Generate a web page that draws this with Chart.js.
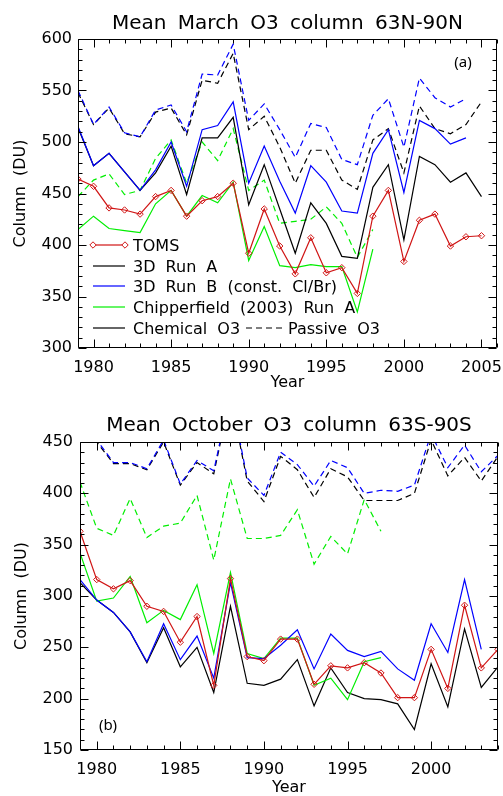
<!DOCTYPE html>
<html><head><meta charset="utf-8">
<script src="https://cdn.jsdelivr.net/npm/chart.js@4"></script>
<style>
html,body{margin:0;padding:0;background:#fff;}
#wrap{width:503px;height:796px;position:relative;overflow:hidden;}
.box{position:absolute;left:0;width:503px;height:398px;}
canvas{display:block;}
</style></head>
<body><div id="wrap">
<div class="box" style="top:0"><canvas id="c1" width="503" height="398"></canvas></div>
<div class="box" style="top:398px"><canvas id="c2" width="503" height="398"></canvas></div>
</div>
<script>
// ---------- Panel (a): March, 63N-90N ----------
const yearsA = [1979,1980,1981,1982,1983,1984,1985,1986,1987,1988,1989,1990,1991,1992,1993,1994,1995,1996,1997,1998,1999,2000,2001,2002,2003,2004,2005];
const tomsA      = [464,457,436,434,430,447,453,428,443,447,460,392,435,399,372,407,373,378,353,428,453,384,424,430,399,408,409];
const runAChemA  = [514,477,489,471,453,470,496,449,504,504,524,439,478,435,392,441,421,389,387,456,478,405,486,478,461,470,447];
const runAPassA  = [548,517,533,508,505,529,533,507,560,557,586,512,525,495,460,492,492,463,454,502,513,470,535,513,508,517,539];
const runBChemA  = [515,477,489,471,453,473,500,457,512,516,539,460,496,462,431,477,461,433,431,489,512,451,521,513,498,504,null];
const runBPassA  = [550,517,534,509,505,531,536,510,566,565,595,521,537,512,485,518,514,483,478,526,542,495,562,543,534,542,null];
const chipChemA  = [415,428,416,414,412,440,453,428,448,441,461,385,418,380,378,381,379,379,335,396,null,null,null,null,null,null,null];
const chipPassA  = [447,463,469,449,453,484,502,460,500,482,513,453,463,421,423,425,437,421,388,415,null,null,null,null,null,null,null];
const xTicksA = [1980,1985,1990,1995,2000,2005];
const yTicksA = [300,350,400,450,500,550,600];

// ---------- Panel (b): October, 63S-90S ----------
const yearsB = [1979,1980,1981,1982,1983,1984,1985,1986,1987,1988,1989,1990,1991,1992,1993,1994,1995,1996,1997,1998,1999,2000,2001,2002,2003,2004];
const tomsB      = [363,316,307,315,290,285,255,280,213,317,241,237,258,258,214,232,230,235,225,201,201,248,210,291,230,248];
const runAChemB  = [313,296,284,265,235,269,231,250,206,290,215,213,219,238,193,230,206,200,199,195,170,234,192,268,211,231];
const runAPassB  = [478,450,429,429,423,450,408,430,419,495,412,392,436,423,396,424,416,393,393,393,400,452,417,435,412,436];
const runBChemB  = [316,296,284,265,236,273,238,261,220,313,240,239,252,267,229,263,247,241,246,229,218,273,245,316,248,null];
const runBPassB  = [480,452,430,430,424,452,409,432,422,497,415,398,440,428,407,432,425,400,403,402,408,458,425,447,421,437];
const chipChemB  = [342,295,298,319,274,286,277,311,244,323,244,239,259,259,213,220,199,236,240,null,null,null,null,null,null,null];
const chipPassB  = [411,366,359,395,357,368,371,398,335,414,356,356,359,384,331,358,341,394,363,null,null,null,null,null,null,null];
const xTicksB = [1980,1985,1990,1995,2000];
const yTicksB = [150,200,250,300,350,400,450];

const legendLabels = ['TOMS','3D Run A','3D Run B (const. Cl/Br)','Chipperfield (2003) Run A','Chemical O3','Passive O3'];

const FONT = 'DejaVu Sans';
const RED = '#d01515', BLACK = '#000000', BLUE = '#0000ff', GREEN = '#00ee00';
const DASH = [6,4];

function pts(years, vals){ return years.map((yr,i)=>({x:yr, y:vals[i]})); }

function ds(label, years, vals, color, dashed, markers){
  return {
    label, data: pts(years, vals), borderColor: color, backgroundColor: color,
    borderWidth: 1.2, borderDash: dashed ? DASH : [], tension: 0, spanGaps: false,
    pointRadius: markers ? 3.2 : 0, pointStyle: 'rectRot', pointBorderColor: color,
    pointBackgroundColor: 'rgba(255,255,255,0)', pointBorderWidth: 1, pointHoverRadius: 0
  };
}

const spacingPlugin = {
  id: 'spacing',
  beforeDraw(chart){ try { chart.ctx.wordSpacing = '5px'; } catch(e){} }
};

const framePlugin = {
  id: 'frame',
  afterDraw(chart, args, o){
    const {ctx, chartArea:{left,right,top,bottom}, scales:{x,y}} = chart;
    ctx.save();
    ctx.strokeStyle = '#000'; ctx.lineWidth = 1; ctx.setLineDash([]);
    const L = Math.round(left)+0.5, R = Math.round(right)-0.5, T = Math.round(top)+0.5, B = Math.round(bottom)-0.5;
    ctx.beginPath();
    ctx.rect(L, T, R-L, B-T);
    for (let v = x.min; v <= x.max + 1e-6; v += o.xMinor){
      const px = Math.round(x.getPixelForValue(v)) + 0.5;
      const len = (Math.abs(v % o.xMajor) < 1e-6) ? 8 : 4;
      ctx.moveTo(px, B); ctx.lineTo(px, B - len);
      ctx.moveTo(px, T); ctx.lineTo(px, T + len);
    }
    for (let v = y.min; v <= y.max + 1e-6; v += o.yMinor){
      const py = Math.round(y.getPixelForValue(v)) + 0.5;
      const len = (Math.abs(v % o.yMajor) < 1e-6) ? 8 : 4;
      ctx.moveTo(L, py); ctx.lineTo(L + len, py);
      ctx.moveTo(R, py); ctx.lineTo(R - len, py);
    }
    ctx.stroke();
    // panel tag
    ctx.fillStyle = '#000';
    ctx.font = '15px "Noto Sans"';
    ctx.textAlign = 'center'; ctx.textBaseline = 'middle';
    ctx.fillText(o.tag, o.tagX, o.tagY);
    ctx.restore();
  }
};

const legendPlugin = {
  id: 'legendA',
  afterDraw(chart, args, o){
    if (!o.show) return;
    const ctx = chart.ctx;
    ctx.save();
    try { ctx.wordSpacing = '5px'; } catch(e){}
    ctx.font = '16px "' + FONT + '"';
    ctx.textAlign = 'left'; ctx.textBaseline = 'middle';
    ctx.fillStyle = '#000';
    const x0 = 93, x1 = 125, tx = 133;
    const rows = [245, 266, 286, 307, 328];
    const cols = [RED, BLACK, BLUE, GREEN, BLACK];
    ctx.lineWidth = 1.2;
    for (let i = 0; i < 5; i++){
      ctx.strokeStyle = cols[i]; ctx.setLineDash([]);
      ctx.beginPath(); ctx.moveTo(x0, rows[i]); ctx.lineTo(x1, rows[i]); ctx.stroke();
      if (i === 0){
        [x0, x1].forEach(px => {
          ctx.beginPath();
          ctx.moveTo(px, rows[i]-3.2); ctx.lineTo(px+3.2, rows[i]); ctx.lineTo(px, rows[i]+3.2); ctx.lineTo(px-3.2, rows[i]); ctx.closePath();
          ctx.fillStyle = '#fff'; ctx.fill(); ctx.lineWidth = 1; ctx.stroke(); ctx.lineWidth = 1.2;
        });
      }
      ctx.fillStyle = '#000';
      ctx.fillText(legendLabels[i], tx, rows[i] + 2);
    }
    ctx.strokeStyle = BLACK; ctx.setLineDash(DASH);
    ctx.beginPath(); ctx.moveTo(246, rows[4]); ctx.lineTo(282, rows[4]); ctx.stroke();
    ctx.setLineDash([]);
    ctx.fillText(legendLabels[5], 288, rows[4] + 2);
    ctx.restore();
  }
};

function makeChart(id, cfg){
  return new Chart(document.getElementById(id), {
    type: 'line',
    data: { datasets: cfg.datasets },
    plugins: [spacingPlugin, framePlugin, legendPlugin],
    options: {
      responsive: false, animation: false, devicePixelRatio: 1,
      events: [],
      layout: { padding: { left: 0, right: cfg.padRight, top: 0, bottom: 0 } },
      plugins: {
        legend: { display: false }, tooltip: { enabled: false },
        title: { display: true, text: cfg.title, fullSize: false, color: '#000',
                 font: { family: FONT, size: 20, weight: 'normal', lineHeight: 1.2 },
                 padding: { top: cfg.titleTop, bottom: cfg.titleBottom } },
        frame: { xMinor: 1, xMajor: 5, yMinor: 10, yMajor: 50, tag: cfg.tag, tagX: cfg.tagX, tagY: cfg.tagY },
        legendA: { show: cfg.legend }
      },
      scales: {
        x: {
          type: 'linear', min: cfg.xmin, max: cfg.xmax,
          afterBuildTicks: s => { s.ticks = cfg.xTicks.map(v => ({ value: v })); },
          afterFit: s => { s.height = cfg.xH; s.paddingLeft = 0; s.paddingRight = 0; },
          grid: { display: false, drawTicks: false }, border: { display: false },
          ticks: { padding: 10, color: '#000', autoSkip: false, maxRotation: 0,
                   font: { family: FONT, size: 16 }, callback: v => String(v) },
          title: { display: true, text: 'Year', color: '#000',
                   font: { family: FONT, size: 16, lineHeight: 1 }, padding: { top: 0, bottom: cfg.yearPad } }
        },
        y: {
          type: 'linear', min: cfg.ymin, max: cfg.ymax,
          afterBuildTicks: s => { s.ticks = cfg.yTicks.map(v => ({ value: v })); },
          afterFit: s => { s.width = cfg.yW; s.paddingTop = 0; s.paddingBottom = 0; },
          grid: { display: false, drawTicks: false }, border: { display: false },
          ticks: { padding: cfg.yTickPad, color: '#000', autoSkip: false,
                   font: { family: FONT, size: 16 }, callback: v => String(v) },
          title: { display: true, text: 'Column (DU)', color: '#000',
                   font: { family: FONT, size: 16, lineHeight: 1 }, padding: { top: cfg.colPad, bottom: 0 } }
        }
      }
    }
  });
}

makeChart('c1', {
  title: 'Mean March O3 column 63N-90N',
  datasets: [
    ds('TOMS', yearsA, tomsA, RED, false, true),
    ds('3D Run B Chemical O3', yearsA, runBChemA, BLUE, false, false),
    ds('Chipperfield (2003) Run A Chemical O3', yearsA, chipChemA, GREEN, false, false),
    ds('3D Run A Chemical O3', yearsA, runAChemA, BLACK, false, false),
    ds('3D Run B Passive O3', yearsA, runBPassA, BLUE, true, false),
    ds('Chipperfield (2003) Run A Passive O3', yearsA, chipPassA, GREEN, true, false),
    ds('3D Run A Passive O3', yearsA, runAPassA, BLACK, true, false)
  ],
  xmin: 1979, xmax: 2006, ymin: 300, ymax: 600, xTicks: xTicksA, yTicks: yTicksA,
  padRight: 6, titleTop: 12, titleBottom: 3, xH: 50, yW: 78, yearPad: 7, colPad: 13, yTickPad: 6,
  tag: '(a)', tagX: 463, tagY: 63, legend: true
});

makeChart('c2', {
  title: 'Mean October O3 column 63S-90S',
  datasets: [
    ds('TOMS', yearsB, tomsB, RED, false, true),
    ds('3D Run B Chemical O3', yearsB, runBChemB, BLUE, false, false),
    ds('Chipperfield (2003) Run A Chemical O3', yearsB, chipChemB, GREEN, false, false),
    ds('3D Run A Chemical O3', yearsB, runAChemB, BLACK, false, false),
    ds('3D Run B Passive O3', yearsB, runBPassB, BLUE, true, false),
    ds('Chipperfield (2003) Run A Passive O3', yearsB, chipPassB, GREEN, true, false),
    ds('3D Run A Passive O3', yearsB, runAPassB, BLACK, true, false)
  ],
  xmin: 1979, xmax: 2004, ymin: 150, ymax: 450, xTicks: xTicksB, yTicks: yTicksB,
  padRight: 5, titleTop: 16, titleBottom: 4, xH: 46, yW: 80, yearPad: 0, colPad: 14, yTickPad: 7,
  tag: '(b)', tagX: 108, tagY: 328, legend: false
});
</script>
</body></html>
